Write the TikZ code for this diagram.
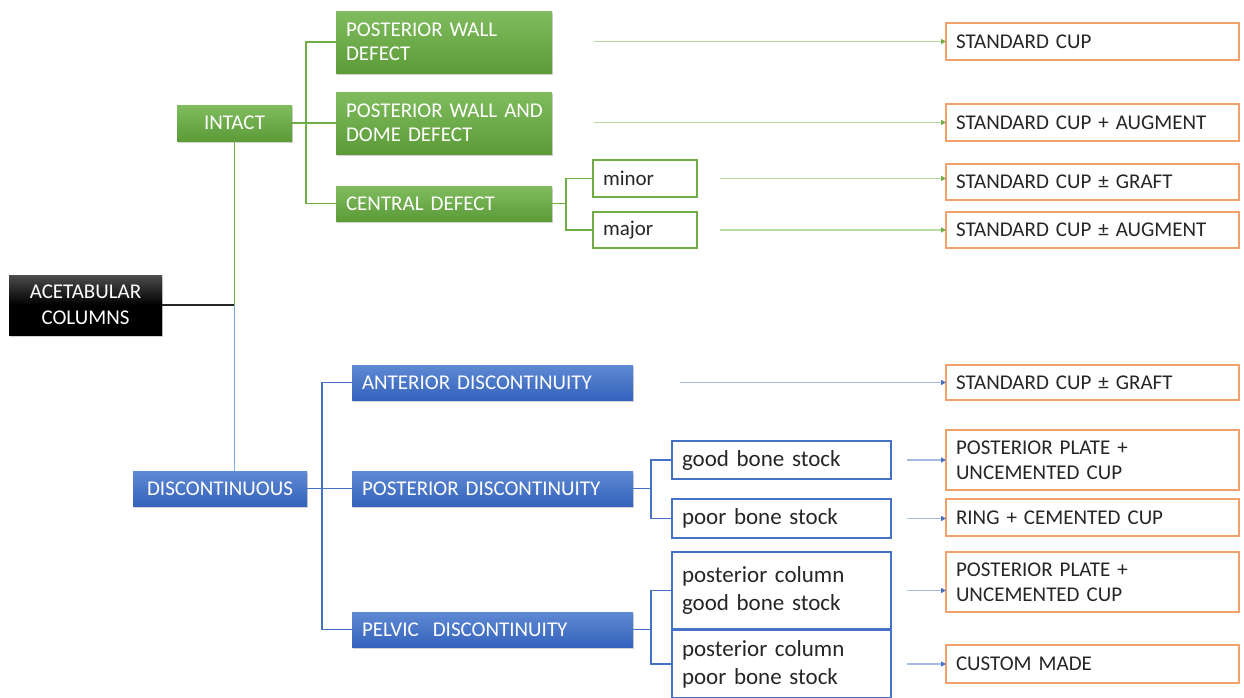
\documentclass[tikz,border=0pt]{standalone}
\usepackage{fontspec}
\setmainfont{Carlito}[WordSpace=0.6]
\usetikzlibrary{arrows.meta,shadows}
\definecolor{gTop}{HTML}{80BC5E}
\definecolor{gBot}{HTML}{5C9B38}
\definecolor{gLine}{HTML}{70AD47}
\definecolor{gArr}{HTML}{B9DAA3}
\definecolor{bTop}{HTML}{5F89D2}
\definecolor{bBot}{HTML}{3563BD}
\definecolor{bLine}{HTML}{4472C4}
\definecolor{bArr}{HTML}{A3BBE6}
\definecolor{bVert}{HTML}{7AAEE6}
\definecolor{oLine}{HTML}{F2A06C}
\tikzset{
  base/.style={anchor=north west, inner xsep=10pt, inner ysep=0pt, outer sep=0pt},
  shad/.style={drop shadow={shadow xshift=1pt, shadow yshift=-2pt, opacity=0.35}},
  gbox/.style={base, top color=gTop, bottom color=gBot, text=white, shad, font=\fontsize{21}{24}\selectfont},
  bbox/.style={base, top color=bTop, bottom color=bBot, text=white, shad, font=\fontsize{21}{24}\selectfont},
  kbox/.style={base, top color=black!70, bottom color=black, middle color=black, text=white, shad, font=\fontsize{21}{26}\selectfont},
  gout/.style={base, draw=gLine, line width=1.2pt, fill=white, text=black!85, font=\fontsize{21}{24}\selectfont},
  bout/.style={base, draw=bLine, line width=1.2pt, fill=white, text=black!85, font=\fontsize{23}{28}\selectfont},
  obox/.style={base, draw=oLine, line width=1.5pt, fill=white, text=black!85, font=\fontsize{21}{25}\selectfont, minimum width=293pt, text width=273pt, align=left},
  gconn/.style={draw=gLine, line width=1.5pt},
  bconn/.style={draw=bLine, line width=1.5pt},
  garrow/.style={draw=gArr, line width=1.2pt, -{Triangle[length=5pt,width=5pt,color=gLine]}},
  barrow/.style={draw=bArr, line width=1.2pt, -{Triangle[length=5pt,width=5pt,color=bLine]}},
}
\begin{document}
\begin{tikzpicture}[x=1pt,y=-1pt]
\useasboundingbox[fill=white] (0,0) rectangle (1244,697);

% root and level 1
\node[kbox, minimum width=153pt, minimum height=60pt, text width=133pt, align=center] (root) at (9,275) {ACETABULAR\\COLUMNS};
\node[gbox, minimum width=115pt, minimum height=36pt, text width=95pt, align=center] (intact) at (177,105) {INTACT};
\node[bbox, minimum width=174pt, minimum height=35pt, text width=154pt, align=center] (disc) at (133,471) {DISCONTINUOUS};

% green level 2
\node[gbox, minimum width=216pt, minimum height=62pt, text width=200pt, inner xsep=8pt, align=left] (pwd) at (336,11) {\hspace{2pt}POSTERIOR WALL\\\hspace{2pt}DEFECT};
\node[gbox, minimum width=216pt, minimum height=62pt, text width=200pt, inner xsep=8pt, align=left] (pwdd) at (336,92) {\hspace{2pt}POSTERIOR WALL AND\\\hspace{2pt}DOME DEFECT};
\node[gbox, minimum width=216pt, minimum height=35pt, text width=196pt, align=left] (cd) at (336,186) {CENTRAL DEFECT};
\node[gout, minimum width=104pt, minimum height=37pt, text width=84pt, align=left] (minor) at (593,160) {minor};
\node[gout, minimum width=104pt, minimum height=36pt, text width=84pt, align=left] (major) at (593,212) {major};

% blue level 2
\node[bbox, minimum width=281pt, minimum height=35pt, text width=261pt, align=left] (ad) at (352,365) {ANTERIOR DISCONTINUITY};
\node[bbox, minimum width=281pt, minimum height=35pt, text width=261pt, align=left] (pd) at (352,471) {POSTERIOR DISCONTINUITY};
\node[bbox, minimum width=281pt, minimum height=35pt, text width=261pt, align=left] (pvd) at (352,612) {PELVIC~ DISCONTINUITY};
\node[bout, minimum width=219pt, minimum height=38pt, text width=199pt, align=left] (gbs) at (672,441) {good bone stock};
\node[bout, minimum width=219pt, minimum height=39pt, text width=199pt, align=left] (pbs) at (672,499) {poor bone stock};
\node[bout, minimum width=219pt, minimum height=77pt, text width=199pt, align=left] (pcg) at (672,552) {posterior column\\good bone stock};
\node[bout, minimum width=219pt, minimum height=68pt, text width=199pt, align=left] (pcp) at (672,630) {posterior column\\poor bone stock};

% orange outcome boxes
\node[obox, minimum height=37pt] (o1) at (946,23) {STANDARD CUP};
\node[obox, minimum height=37pt] (o2) at (946,104) {STANDARD CUP + AUGMENT};
\node[obox, minimum height=36pt] (o3) at (946,164) {STANDARD CUP ± GRAFT};
\node[obox, minimum height=36pt] (o4) at (946,212) {STANDARD CUP ± AUGMENT};
\node[obox, minimum height=35pt] (o5) at (946,365) {STANDARD CUP ± GRAFT};
\node[obox, minimum height=60pt] (o6) at (946,430) {POSTERIOR PLATE +\\UNCEMENTED CUP};
\node[obox, minimum height=37pt] (o7) at (946,499) {RING + CEMENTED CUP};
\node[obox, minimum height=60pt] (o8) at (946,552) {POSTERIOR PLATE +\\UNCEMENTED CUP};
\node[obox, minimum height=38pt] (o9) at (946,645) {CUSTOM MADE};

% root connectors
\coordinate (j) at (intact.south |- root.east);
\draw[draw=black!85, line width=1.5pt] (root.east) -- (j);
\draw[gconn] (intact.south) -- (j);
\draw[draw=bVert, line width=1.8pt] (j) -- (j |- disc.north);

% green tree
\draw[gconn] (intact.east) -- ++(14,0) coordinate (gx);
\draw[gconn] (pwd.west) -| (gx) |- (cd.west);
\draw[gconn] (gx) -- (pwdd.west);
\draw[gconn] (cd.east) -- ++(14,0) coordinate (cx);
\draw[gconn] (minor.west) -| (cx) |- (major.west);

% blue tree
\draw[bconn] (disc.east) -- ++(15,0) coordinate (bx);
\draw[bconn] (ad.west) -| (bx) |- (pvd.west);
\draw[bconn] (bx) -- (pd.west);
\draw[bconn] (pd.east) -- ++(18,0) coordinate (px);
\draw[bconn] (gbs.west) -| (px) |- (pbs.west);
\draw[bconn] (pvd.east) -- ++(18,0) coordinate (vx);
\draw[bconn] (pcg.west) -| (vx) |- (pcp.west);

% arrows
\coordinate (s1) at (594,0);
\coordinate (s3) at (720,0);
\coordinate (s5) at (680,0);
\coordinate (s6) at (907,0);
\draw[garrow] (s1 |- o1.west) -- (o1.west);
\draw[garrow] (s1 |- o2.west) -- (o2.west);
\draw[garrow] (s3 |- minor.east) -- (o3.west |- minor.east);
\draw[garrow] (s3 |- major.east) -- (o4.west |- major.east);
\draw[barrow] (s5 |- o5.west) -- (o5.west);
\draw[barrow] (s6 |- gbs.east) -- (o6.west |- gbs.east);
\draw[barrow] (s6 |- pbs.east) -- (o7.west |- pbs.east);
\draw[barrow] (s6 |- pcg.east) -- (o8.west |- pcg.east);
\draw[barrow] (s6 |- o9.west) -- (o9.west);
\end{tikzpicture}
\end{document}
